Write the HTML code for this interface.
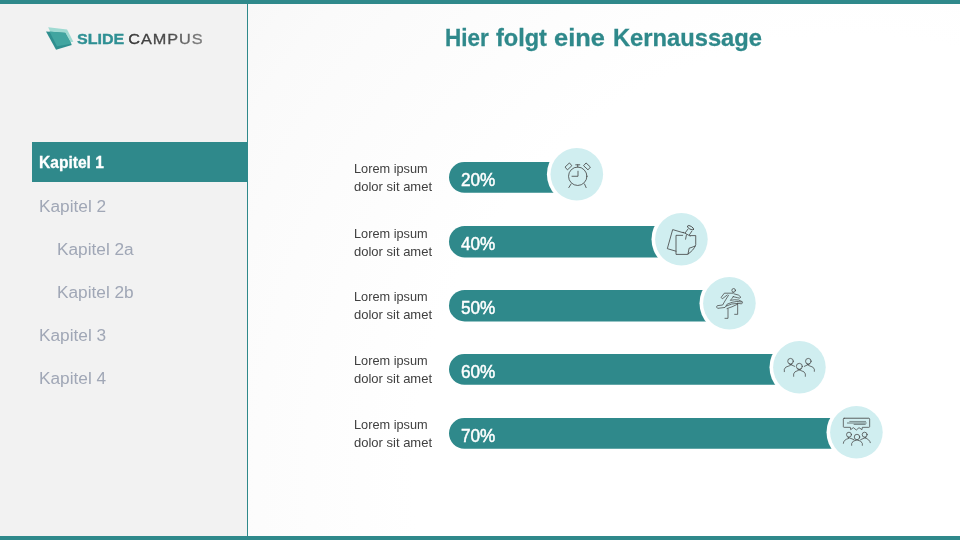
<!DOCTYPE html>
<html><head><meta charset="utf-8">
<style>
html,body{margin:0;padding:0;}
body{width:960px;height:540px;overflow:hidden;position:relative;font-family:"Liberation Sans",sans-serif;background:#fff;}
#main{position:absolute;left:0;top:0;width:960px;height:540px;background:radial-gradient(circle 1000px at 854px 476px,#ffffff 0,#ffffff 44%,#fafafa 70%,#f7f7f7 80%,#f3f3f3 100%);}
#side{position:absolute;left:0;top:0;width:247px;height:540px;background:#f2f2f2;}
#vline{position:absolute;left:247px;top:0;width:1px;height:540px;background:#2f898b;}
#topbar{position:absolute;left:0;top:0;width:960px;height:3.5px;background:#2f898b;}
#botbar{position:absolute;left:0;top:536px;width:960px;height:4px;background:#2f898b;}
.t{position:absolute;white-space:nowrap;line-height:1;transform-origin:0 0;}
#k1box{position:absolute;left:32px;top:142px;width:215px;height:40px;background:#2f898b;}
.nav{color:#a0a7b6;font-size:16px;transform:scaleX(1.078);}
.lab{color:#404040;font-size:13px;}
.pct{color:#fff;font-size:19px;-webkit-text-stroke:0.5px #fff;transform:scaleX(.903);}

.ico{position:absolute;width:72px;height:72px;overflow:visible;}
.ico *{fill:none;stroke:#404040;stroke-width:6;stroke-linecap:round;stroke-linejoin:round;}
.ico.sm *{stroke-width:11;}
</style></head><body>
<div id="main"></div>
<div id="side"></div>
<div id="vline"></div>
<div id="topbar"></div>
<div id="botbar"></div>
<div id="fg" style="position:absolute;left:0;top:0;width:960px;height:540px;will-change:transform;">

<!-- logo -->
<svg style="position:absolute;left:40px;top:22px;width:60px;height:34px;" viewBox="0 0 953 540">
<polygon points="130,85 430,120 530,315 250,350" fill="#9fdad2"/>
<polygon points="95,150 400,170 505,365 255,440" fill="#2f8f8f"/>
<polygon points="150,150 400,175 500,345 270,385" fill="#41a5a0"/>
</svg>
<span class="t" id="lg1" style="left:76.8px;top:30.9px;font-size:15px;font-weight:bold;color:#2f9094;-webkit-text-stroke:0.35px #2f9094;transform:scaleX(1.07);">SLIDE</span>
<svg style="position:absolute;left:120px;top:24px;width:100px;height:30px;overflow:visible;" viewBox="0 0 100 30">
<defs><linearGradient id="cg" x1="0" y1="0" x2="1" y2="0"><stop offset="0" stop-color="#383838"/><stop offset="0.55" stop-color="#4c4c4c"/><stop offset="1" stop-color="#808080"/></linearGradient></defs>
<text x="0" y="0" transform="translate(8.3,19.5) scale(1.085,1)" font-family="Liberation Sans, sans-serif" font-size="15" letter-spacing="0.85" fill="url(#cg)" stroke="url(#cg)" stroke-width="0.3">CAMPUS</text>
</svg>
<div id="k1box"></div>
<span class="t" style="left:39.2px;top:155px;font-size:16px;font-weight:bold;color:#fff;-webkit-text-stroke:0.3px #fff;transform:scaleX(.972);">Kapitel 1</span>
<span class="t nav" style="left:39px;top:199px;">Kapitel 2</span>
<span class="t nav" style="left:57px;top:242px;">Kapitel 2a</span>
<span class="t nav" style="left:57px;top:285px;">Kapitel 2b</span>
<span class="t nav" style="left:39px;top:328px;">Kapitel 3</span>
<span class="t nav" style="left:39px;top:371px;">Kapitel 4</span>

<span class="t tw" style="left:444.8px;top:26px;font-size:24px;font-weight:bold;color:#2f898b;-webkit-text-stroke:0.3px #2f898b;transform:scaleX(.937);">Hier</span>
<span class="t tw" style="left:496.0px;top:26px;font-size:24px;font-weight:bold;color:#2f898b;-webkit-text-stroke:0.3px #2f898b;transform:scaleX(.98);">folgt</span>
<span class="t tw" style="left:553.8px;top:26px;font-size:24px;font-weight:bold;color:#2f898b;-webkit-text-stroke:0.3px #2f898b;transform:scaleX(1.059);">eine</span>
<span class="t tw" style="left:612.8px;top:26px;font-size:24px;font-weight:bold;color:#2f898b;-webkit-text-stroke:0.3px #2f898b;transform:scaleX(.988);">Kernaussage</span>

<!-- rows -->

<svg style="position:absolute;left:0;top:0;width:960px;height:540px;" viewBox="0 0 960 540">
<path d="M464.35 162H576.8V192.70H464.35A15.35 15.35 0 0 1 464.35 162Z" fill="#2f898b"/>
<path d="M464.70 226H681.4V257.40H464.70A15.70 15.70 0 0 1 464.70 226Z" fill="#2f898b"/>
<path d="M464.70 290H729.4V321.40H464.70A15.70 15.70 0 0 1 464.70 290Z" fill="#2f898b"/>
<path d="M464.35 354H799.4V384.70H464.35A15.35 15.35 0 0 1 464.35 354Z" fill="#2f898b"/>
<path d="M464.35 418H856.4V448.70H464.35A15.35 15.35 0 0 1 464.35 418Z" fill="#2f898b"/>
<circle cx="576.8" cy="174.3" r="29.9" fill="#fff"/><circle cx="576.8" cy="174.3" r="26.3" fill="#d0eef0"/>
<circle cx="681.4" cy="239.3" r="29.9" fill="#fff"/><circle cx="681.4" cy="239.3" r="26.3" fill="#d0eef0"/>
<circle cx="729.4" cy="303.3" r="29.9" fill="#fff"/><circle cx="729.4" cy="303.3" r="26.3" fill="#d0eef0"/>
<circle cx="799.4" cy="367.3" r="29.9" fill="#fff"/><circle cx="799.4" cy="367.3" r="26.3" fill="#d0eef0"/>
<circle cx="856.4" cy="432.3" r="29.9" fill="#fff"/><circle cx="856.4" cy="432.3" r="26.3" fill="#d0eef0"/>
</svg>
<!-- icon 1: alarm clock -->
<svg class="ico" style="left:540px;top:140px;" viewBox="0 0 540 540">
<circle cx="283" cy="272" r="69"/>
<path d="M285 234V272H240"/>
<path d="M283 186V203M268 186H298"/>
<path d="M190 201L221 172L239 193L208 222Z"/>
<path d="M376 201L345 172L327 193L358 222Z"/>
<path d="M233 330L216 357M334 330L346 357"/>
</svg>
<!-- icon 2: notes -->
<svg class="ico" style="left:644px;top:204px;" viewBox="0 0 540 540">
<path d="M296 216L215 192L175 335L240 354"/>
<path d="M290 235H240V378H325C352 362 380 335 388 305V237H346"/>
<path d="M330 376L338 332L384 316"/>
<ellipse cx="349" cy="178" rx="26" ry="11" transform="rotate(30 349 178)"/>
<path d="M329 189L310 215M358 205L341 230"/>
<path d="M294 212L346 240"/>
<path d="M318 232L312 264"/>
</svg>
<!-- icon 3: hurdler -->
<svg class="ico sm" style="left:712px;top:284px;width:36px;height:36px;" viewBox="0 0 540 540">
<g>
<circle cx="325" cy="95" r="27"/>
<path d="M318 124V138H185L138 200L155 222L228 165"/>
<path d="M248 168L185 270L160 315L80 325Q52 345 85 365L195 352L228 302Q300 268 372 262L440 270"/>
<path d="M330 148L395 165L432 195L416 213L385 206L318 190"/>
<path d="M322 186L298 218L275 246L340 236L400 240L455 266Q462 285 444 298L385 290"/>
<path d="M215 330Q290 290 385 290"/>
<path d="M225 368L300 342L385 302"/>
<path d="M240 372V515H195"/>
<path d="M385 302V455H340"/>
</g>
</svg>
<!-- icon 4: three people -->
<svg class="ico sm" style="left:781px;top:352px;width:36px;height:36px;" viewBox="0 0 540 540">
<circle cx="143" cy="138" r="42"/>
<circle cx="410" cy="138" r="42"/>
<circle cx="275" cy="215" r="45"/>
<path d="M50 295V258Q55 222 130 205L165 180M125 180L205 215"/>
<path d="M500 290V258Q495 222 420 205L388 180M428 180L350 215"/>
<path d="M190 365V328Q195 292 262 275L300 255M250 255L290 275Q360 292 365 328V365"/>
</svg>
<!-- icon 5: people + bubble -->
<svg class="ico sm" style="left:838px;top:414px;width:36px;height:36px;" viewBox="0 0 540 540">
<path d="M92 65H463Q475 65 475 77V188Q475 200 463 200H365L360 235L315 205L275 240L230 205L190 235L185 200H92Q80 200 80 188V77Q80 65 92 65Z"/>
<path d="M95 57H460" style="stroke:#8a9a9a;stroke-width:6"/>
<path d="M170 112H420" style="stroke:#647272;stroke-width:11;stroke-linecap:butt"/>
<path d="M135 135H430" style="stroke:#647272;stroke-width:14;stroke-linecap:butt"/>
<path d="M235 155H415" style="stroke:#647272;stroke-width:14;stroke-linecap:butt"/>
<circle cx="165" cy="310" r="37"/>
<circle cx="400" cy="310" r="37"/>
<circle cx="285" cy="345" r="41"/>
<path d="M80 440Q80 385 160 366M150 350L240 385"/>
<path d="M485 430Q475 380 405 358M420 350L340 385"/>
<path d="M205 470V442Q215 398 285 390Q355 398 365 442V470"/>
</svg>
<span class="t lab" style="left:354px;top:162px;transform:scaleX(.98);">Lorem ipsum</span>
<span class="t lab" style="left:354px;top:180px;">dolor sit amet</span>
<span class="t lab" style="left:354px;top:227px;transform:scaleX(.98);">Lorem ipsum</span>
<span class="t lab" style="left:354px;top:245px;">dolor sit amet</span>
<span class="t lab" style="left:354px;top:290px;transform:scaleX(.98);">Lorem ipsum</span>
<span class="t lab" style="left:354px;top:308px;">dolor sit amet</span>
<span class="t lab" style="left:354px;top:354px;transform:scaleX(.98);">Lorem ipsum</span>
<span class="t lab" style="left:354px;top:372px;">dolor sit amet</span>
<span class="t lab" style="left:354px;top:418px;transform:scaleX(.98);">Lorem ipsum</span>
<span class="t lab" style="left:354px;top:436px;">dolor sit amet</span>

<span class="t pct" style="left:461px;top:170.0px;">20%</span>
<span class="t pct" style="left:461px;top:234.0px;">40%</span>
<span class="t pct" style="left:461px;top:298.0px;">50%</span>
<span class="t pct" style="left:461px;top:362.0px;">60%</span>
<span class="t pct" style="left:461px;top:426.0px;">70%</span>
</div>
</body></html>
